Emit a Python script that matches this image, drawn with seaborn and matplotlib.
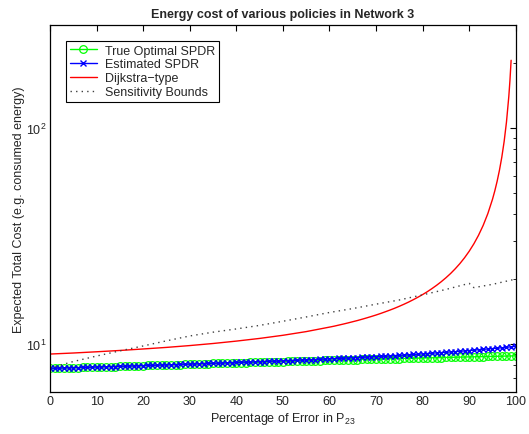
import numpy as np
import matplotlib
matplotlib.use('Agg')
import matplotlib.pyplot as plt
import seaborn as sns

# Data
x_pct = list(range(0, 101))

true_optimal = [
    7.72, 7.73, 7.74, 7.75, 7.76, 7.77, 7.78, 7.79, 7.80, 7.82,
    7.83, 7.84, 7.85, 7.86, 7.87, 7.88, 7.89, 7.91, 7.92, 7.93,
    7.95, 7.96, 7.97, 7.98, 7.99, 8.00, 8.02, 8.03, 8.04, 8.05,
    8.07, 8.08, 8.09, 8.10, 8.11, 8.13, 8.14, 8.15, 8.16, 8.17,
    8.18, 8.19, 8.21, 8.22, 8.23, 8.24, 8.25, 8.26, 8.28, 8.29,
    8.30, 8.31, 8.32, 8.33, 8.35, 8.36, 8.37, 8.38, 8.39, 8.40,
    8.41, 8.42, 8.43, 8.45, 8.46, 8.47, 8.48, 8.49, 8.50, 8.51,
    8.52, 8.53, 8.54, 8.55, 8.56, 8.57, 8.58, 8.59, 8.60, 8.61,
    8.62, 8.63, 8.64, 8.65, 8.66, 8.67, 8.68, 8.69, 8.70, 8.71,
    8.72, 8.73, 8.74, 8.75, 8.76, 8.77, 8.78, 8.79, 8.80, 8.81, 8.82,
]

estimated = [
    7.72, 7.73, 7.74, 7.75, 7.76, 7.77, 7.78, 7.79, 7.80, 7.82,
    7.83, 7.84, 7.85, 7.86, 7.87, 7.88, 7.90, 7.91, 7.92, 7.93,
    7.95, 7.96, 7.97, 7.98, 8.00, 8.01, 8.02, 8.03, 8.05, 8.06,
    8.08, 8.09, 8.10, 8.12, 8.13, 8.14, 8.16, 8.17, 8.19, 8.20,
    8.22, 8.23, 8.24, 8.26, 8.27, 8.29, 8.30, 8.32, 8.33, 8.35,
    8.36, 8.38, 8.39, 8.41, 8.43, 8.45, 8.46, 8.48, 8.50, 8.52,
    8.54, 8.56, 8.58, 8.60, 8.62, 8.64, 8.66, 8.68, 8.70, 8.72,
    8.75, 8.77, 8.79, 8.82, 8.84, 8.87, 8.89, 8.92, 8.95, 8.98,
    9.01, 9.04, 9.07, 9.10, 9.13, 9.16, 9.19, 9.22, 9.26, 9.29,
    9.33, 9.37, 9.41, 9.45, 9.49, 9.53, 9.57, 9.61, 9.66, 9.71, 9.77,
]

dijkstra_x = [0, 5, 10, 15, 20, 25, 30, 35, 40, 45, 50, 55,
              60, 61, 62, 63, 64, 65, 66, 67, 68, 69,
              70, 71, 72, 73, 74, 75, 76, 77, 78, 79,
              80, 81, 82, 83, 84, 85, 86, 87, 88, 89,
              90, 91, 92, 93, 94, 95, 95.5, 96, 96.5, 97, 97.5,
              98, 98.5, 98.75, 99]
dijkstra = [8.99, 9.09, 9.21, 9.34, 9.49, 9.65, 9.84, 10.06, 10.32, 10.62, 10.98, 11.42,
            11.98, 12.10, 12.24, 12.38, 12.53, 12.69, 12.85, 13.03, 13.22, 13.42,
            13.63, 13.86, 14.11, 14.37, 14.65, 14.96, 15.29, 15.65, 16.05, 16.48,
            16.95, 17.47, 18.06, 18.71, 19.44, 20.27, 21.21, 22.31, 23.58, 25.09,
            26.90, 29.11, 31.88, 35.43, 40.17, 46.80, 51.22, 56.75, 63.86, 73.33, 86.60,
            106.50, 139.70, 166.20, 206.00]

bounds_x = [0, 5, 10, 15, 20, 25, 30, 35, 40, 45, 50, 55, 60, 65, 70, 75, 80,
            85, 90, 91, 95, 100]
bounds = [7.75, 8.30, 8.80, 9.30, 9.80, 10.35, 10.90, 11.35, 11.75, 12.20, 12.75,
          13.35, 14.00, 14.60, 15.30, 16.00, 16.90, 17.90, 19.10, 18.25, 18.90, 20.00]

# Style
sns.set_style('white')
plt.rcParams['font.family'] = ['Liberation Sans', 'DejaVu Sans']
plt.rcParams['mathtext.fontset'] = 'custom'
plt.rcParams['mathtext.rm'] = 'Liberation Sans'
plt.rcParams['mathtext.it'] = 'Liberation Sans:italic'
plt.rcParams['mathtext.default'] = 'regular'

fig = plt.figure(figsize=(5.29, 4.35), dpi=100)
ax = fig.add_axes([0.0945, 0.0966, 0.8805, 0.8436])

sns.lineplot(x=x_pct, y=true_optimal, ax=ax, color=(0, 1, 0), lw=1,
             marker='o', markersize=5.5, markerfacecolor='none',
             markeredgecolor=(0, 1, 0), markeredgewidth=0.9,
             label='True Optimal SPDR')
sns.lineplot(x=x_pct, y=estimated, ax=ax, color=(0, 0, 1), lw=1,
             marker='x', markersize=4.5, markeredgecolor=(0, 0, 1),
             markeredgewidth=1, label='Estimated SPDR')
sns.lineplot(x=dijkstra_x, y=dijkstra, ax=ax, color=(1, 0, 0), lw=1,
             label='Dijkstra\u2212type')
sns.lineplot(x=bounds_x, y=bounds, ax=ax, color='#404040', lw=1,
             linestyle=(0, (1, 3)), label='Sensitivity Bounds')

ax.set_yscale('log')
ax.set_xlim(0, 100)
ax.set_ylim(6, 300)
ax.set_xticks(range(0, 101, 10))

ax.tick_params(which='both', direction='in', top=True, right=True,
               labelsize=9, color='black', pad=2.5)
ax.tick_params(which='major', length=4)
ax.tick_params(which='minor', length=2)
for s in ax.spines.values():
    s.set_color('black')
    s.set_linewidth(0.9)

ax.set_title('Energy cost of various policies in Network 3', fontsize=9,
             fontweight='bold', pad=6)
ax.set_xlabel('Percentage of Error in P$_{23}$', fontsize=9, labelpad=2)
ax.set_ylabel('Expected Total Cost (e.g. consumed energy)', fontsize=9, labelpad=1)

leg = ax.legend(loc='upper left', bbox_to_anchor=(0.034, 0.957),
                borderaxespad=0, fontsize=9, frameon=True, fancybox=False,
                framealpha=1, edgecolor='black', handlelength=2.2,
                borderpad=0.3, labelspacing=0.15, handletextpad=0.6)
leg.get_frame().set_linewidth(0.8)

fig.savefig('out.png', dpi=100)
